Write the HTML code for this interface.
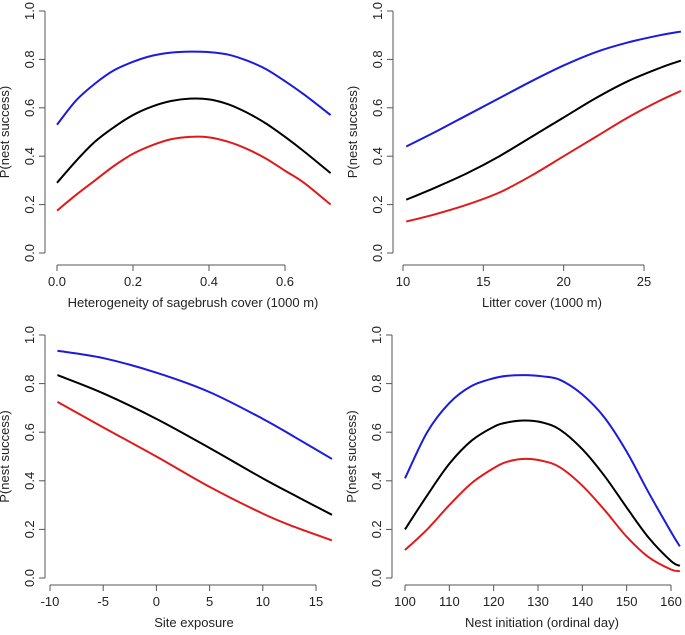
<!DOCTYPE html>
<html><head><meta charset="utf-8"><style>
body{margin:0;background:#fff;}
svg{display:block;font-family:"Liberation Sans",Arial,sans-serif;}
</style></head><body>
<svg id="c" width="685" height="635" viewBox="0 0 685 635"></svg>
<script>
const xTL=[0,0.05,0.1,0.15,0.2,0.25,0.3,0.35,0.4,0.45,0.5,0.55,0.6,0.65,0.72];
const blueTL=[.53,.63,.70,.755,.79,.815,.828,.832,.83,.82,.795,.76,.71,.655,.57];
const blackTL=[.29,.38,.46,.52,.57,.605,.628,.638,.635,.615,.58,.535,.48,.42,.33];
const redTL=[.175,.24,.30,.36,.41,.445,.47,.48,.478,.46,.43,.39,.34,.29,.20];
const ticksTL=[0,0.2,0.4,0.6];
const xTR=[10.2,12,14,16,18,20,22,24,26,27.3];
const blueTR=[.44,.50,.57,.64,.71,.775,.83,.87,.90,.915];
const blackTR=[.22,.27,.33,.40,.48,.56,.64,.71,.765,.795];
const redTR=[.13,.16,.20,.25,.32,.40,.48,.56,.63,.67];
const ticksTR=[10,15,20,25];
const xBL=[-9.3,-5,0,5,10,13,16.5];
const blueBL=[.935,.905,.845,.765,.655,.58,.49];
const blackBL=[.835,.76,.655,.535,.41,.34,.26];
const redBL=[.725,.62,.50,.375,.265,.21,.155];
const ticksBL=[-10,-5,0,5,10,15];
const xBR=[100,105,110,115,120,123,127,131,135,140,145,150,155,160,162];
const blueBR=[.41,.60,.72,.79,.822,.832,.835,.83,.815,.755,.66,.52,.35,.19,.13];
const blackBR=[.20,.34,.47,.565,.622,.64,.648,.64,.61,.53,.42,.29,.165,.07,.05];
const redBR=[.115,.20,.30,.39,.452,.478,.49,.482,.455,.38,.28,.17,.085,.035,.028];
const ticksBR=[100,110,120,130,140,150,160];
const yTicks=[0,0.2,0.4,0.6,0.8,1.0];
const svg=document.getElementById('c');
const NS='http://www.w3.org/2000/svg';
function mk(tag,attrs,parent){const e=document.createElementNS(NS,tag);for(const k in attrs)e.setAttribute(k,attrs[k]);(parent||svg).appendChild(e);return e;}
function path(pts){let d='M'+pts[0][0]+','+pts[0][1];for(let i=0;i<pts.length-1;i++){const p0=pts[i-1]||pts[i],p1=pts[i],p2=pts[i+1],p3=pts[i+2]||p2;d+=' C'+(p1[0]+(p2[0]-p0[0])/6)+','+(p1[1]+(p2[1]-p0[1])/6)+' '+(p2[0]-(p3[0]-p1[0])/6)+','+(p2[1]-(p3[1]-p1[1])/6)+' '+p2[0]+','+p2[1];}return d;}
function panel(cfg){
 const g=mk('g',{});
 
 
 const sx=v=>cfg.x0+(v-cfg.t0)*(cfg.x1-cfg.x0)/(cfg.t1-cfg.t0);
 const sy=v=>cfg.y0+cfg.y1*v;
 const ya=mk('line',{x1:cfg.ax,x2:cfg.ax,y1:sy(0),y2:sy(1),stroke:'#555','stroke-width':1},g);
 
 
 yTicks.forEach(t=>{mk('line',{x1:cfg.ax-6,x2:cfg.ax,y1:sy(t),y2:sy(t),stroke:'#555'},g);
  const tx=mk('text',{x:0,y:0,transform:`translate(${cfg.ax-11},${sy(t)}) rotate(-90)`,'text-anchor':'middle','font-size':13,fill:'#222'},g);tx.textContent=t.toFixed(1);
  
  });
 const yl=mk('text',{transform:`translate(${cfg.ax-36},${(sy(0)+sy(1))/2}) rotate(-90)`,'text-anchor':'middle','font-size':13,fill:'#222'},g);yl.textContent='P(nest success)';
 
 
 const xa=mk('line',{x1:sx(cfg.ticks[0]),x2:sx(cfg.ticks[cfg.ticks.length-1]),y1:cfg.ay,y2:cfg.ay,stroke:'#555'},g);
 
 
 cfg.ticks.forEach(t=>{mk('line',{x1:sx(t),x2:sx(t),y1:cfg.ay,y2:cfg.ay+6,stroke:'#555'},g);
  const tx=mk('text',{x:sx(t),y:cfg.ay+21,'text-anchor':'middle','font-size':13,fill:'#222'},g);tx.textContent=cfg.fmt(t);
  
  });
 const xl=mk('text',{x:cfg.xtitleX,y:cfg.ay+42,'text-anchor':'middle','font-size':13,fill:'#222'},g);xl.textContent=cfg.title;
 
 
 [['upper-ci-line','#1a1ae0',cfg.b],['estimate-line','#000',cfg.k],['lower-ci-line','#e01a1a',cfg.r]].forEach(([n,c,ys])=>{
  const p=mk('path',{d:path(cfg.xs.map((x,i)=>[sx(x),sy(ys[i])])),fill:'none',stroke:c,'stroke-width':2},g);
  
  });
}
panel({name:'panel-heterogeneity',ax:45,ay:265,y0:253,y1:-242,x0:57,x1:285,t0:0,t1:0.6,ticks:ticksTL,fmt:t=>t.toFixed(1),xs:xTL,b:blueTL,k:blackTL,r:redTL,title:'Heterogeneity of sagebrush cover (1000 m)',xtitleX:193});
panel({name:'panel-litter-cover',ax:393,ay:265,y0:253,y1:-242,x0:403,x1:644,t0:10,t1:25,ticks:ticksTR,fmt:t=>t,xs:xTR,b:blueTR,k:blackTR,r:redTR,title:'Litter cover (1000 m)',xtitleX:542});
panel({name:'panel-site-exposure',ax:45,ay:585,y0:578,y1:-243,x0:50,x1:316,t0:-10,t1:15,ticks:ticksBL,fmt:t=>t,xs:xBL,b:blueBL,k:blackBL,r:redBL,title:'Site exposure',xtitleX:194});
panel({name:'panel-nest-initiation',ax:392,ay:585,y0:578,y1:-243,x0:405,x1:671,t0:100,t1:160,ticks:ticksBR,fmt:t=>t,xs:xBR,b:blueBR,k:blackBR,r:redBR,title:'Nest initiation (ordinal day)',xtitleX:542});
</script>
</body></html>
